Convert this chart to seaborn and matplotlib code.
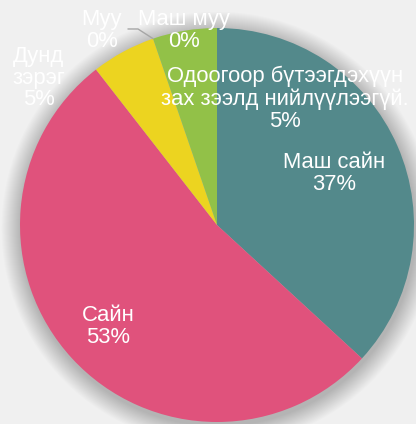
import numpy as np
import matplotlib
matplotlib.use("Agg")
import matplotlib.pyplot as plt
from matplotlib.patches import Circle
import seaborn as sns

# data
categories = ["Маш сайн", "Сайн", "Дунд\nзэрэг", "Муу", "Маш муу",
              "Одоогоор бүтээгдэхүүн\nзах зээлд нийлүүлээгүй."]
counts = [21, 30, 3, 0, 0, 3]
colors = ["#53898b", "#e0527c", "#ecd420", "#5b9bd5", "#ed7d31", "#92c148"]

# label centres (axes data units, pie radius = 1)
label_pos = [(0.596, 0.259), (-0.553, -0.513), (-0.904, 0.746),
             (-0.584, 0.985), (-0.168, 0.985), (0.345, 0.640)]

sns.set_theme(style="white")
plt.rcParams["font.family"] = ["Liberation Sans", "DejaVu Sans"]

fig = plt.figure(figsize=(4.16, 4.24), dpi=100, facecolor="#f0f0f0")
ax = fig.add_axes([20 / 416, 2 / 424, 394 / 416, 394 / 424])
ax.set_facecolor("none")
ax.axis("off")

# soft shadow behind the pie
n = 20
for i in range(n):
    r = 1.0 + 0.1 * (1 - i / n)
    ax.add_patch(Circle((0.006, -0.018), r, color="black", alpha=0.011,
                        lw=0, clip_on=False, zorder=0))

wedges, _ = ax.pie(counts, colors=colors, startangle=90, counterclock=False,
                   radius=1, wedgeprops=dict(linewidth=0))
for w in wedges:
    w.set_zorder(2)
ax.set_xlim(-1, 1)
ax.set_ylim(-1, 1)

total = sum(counts)
for cat, c, (x, y) in zip(categories, counts, label_pos):
    pct = int(round(100 * c / total))
    ax.text(x, y, f"{cat}\n{pct}%", ha="center", va="center", color="white",
            fontsize=15.8, linespacing=1.06, zorder=5, clip_on=False)

# leader line for "Маш муу"
th = np.deg2rad(wedges[4].theta1)
ex, ey = np.cos(th), np.sin(th)
ax.plot([-0.452, -0.401, ex], [0.995, 0.995, ey], color="#a6a6a6", lw=1,
        zorder=3, clip_on=False)

fig.savefig("out.png", dpi=100, facecolor=fig.get_facecolor())
